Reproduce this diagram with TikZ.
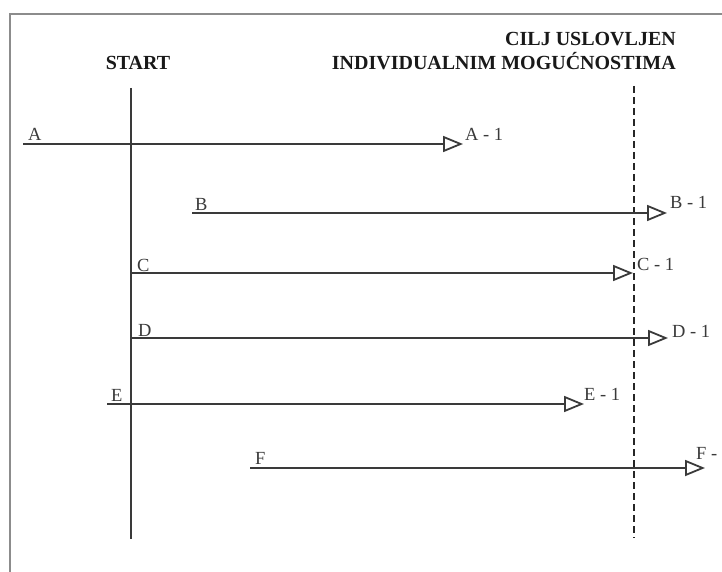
\documentclass[tikz,border=0pt]{standalone}
\usepackage{fontspec}
\setmainfont{Liberation Serif}
\usetikzlibrary{arrows.meta}
\definecolor{framegray}{HTML}{8C8C8C}
\definecolor{linegray}{HTML}{3A3A3A}
\tikzset{
  frameline/.style={draw=framegray, line width=2pt},
  axisline/.style={draw=linegray, line width=1.6pt},
  goalline/.style={draw=black!85, line width=1.4pt, dash pattern=on 7pt off 4pt},
  runline/.style={draw=linegray, line width=1.5pt, -{Triangle[open, length=20pt, width=16pt, line width=1.8pt]}},
  titletext/.style={inner sep=0pt, font=\fontsize{20}{24}\selectfont\bfseries, text=black!90},
  lbl/.style={inner sep=0pt, anchor=base west, font=\fontsize{18.5}{20}\selectfont, text=linegray},
}
\begin{document}
\begin{tikzpicture}[x=1pt, y=-1pt]
\useasboundingbox (0,0) rectangle (722,572);
% frame
\coordinate (fbl) at (9.5,572);
\coordinate (ftl) at (9.5,14);
\coordinate (ftr) at (722,14);
\draw[frameline] (fbl) -- (ftl) -- (ftr);
% titles
\node[titletext, anchor=base] (start) at (138,70) {START};
\node[titletext, anchor=base east] (cilj1) at (676,46) {CILJ USLOVLJEN};
\node[titletext, anchor=base east] (cilj2) at (676,70) {INDIVIDUALNIM MOGUĆNOSTIMA};
% vertical lines
\coordinate (st) at (131,88);
\coordinate (sb) at (131,539);
\draw[axisline] (st) -- (sb);
\coordinate (gt) at (634,86);
\coordinate (gb) at (634,538);
\draw[goalline] (gt) -- (gb);
% runs
\coordinate (a0) at (23,144);  \coordinate (a1) at (463,144);
\coordinate (b0) at (192,213); \coordinate (b1) at (667,213);
\coordinate (c0) at (132,273); \coordinate (c1) at (633,273);
\coordinate (d0) at (132,338); \coordinate (d1) at (668,338);
\coordinate (e0) at (107,404); \coordinate (e1) at (584,404);
\coordinate (f0) at (250,468); \coordinate (f1) at (705,468);
\draw[runline] (a0) -- (a1);
\draw[runline] (b0) -- (b1);
\draw[runline] (c0) -- (c1);
\draw[runline] (d0) -- (d1);
\draw[runline] (e0) -- (e1);
\draw[runline] (f0) -- (f1);
% start labels
\node[lbl] (la) at (28,141) {A};
\node[lbl] (lb) at (195,210) {B};
\node[lbl] (lc) at (137,271) {C};
\node[lbl] (ld) at (138,336) {D};
\node[lbl] (le) at (111,401) {E};
\node[lbl] (lf) at (255,464) {F};
% end labels
\node[lbl] (la1) at (465,141) {A - 1};
\node[lbl] (lb1) at (670,208) {B - 1};
\node[lbl] (lc1) at (637,270) {C - 1};
\node[lbl] (ld1) at (672,337) {D - 1};
\node[lbl] (le1) at (584,400) {E - 1};
\node[lbl] (lf1) at (696,459) {F -};
\end{tikzpicture}
\end{document}
